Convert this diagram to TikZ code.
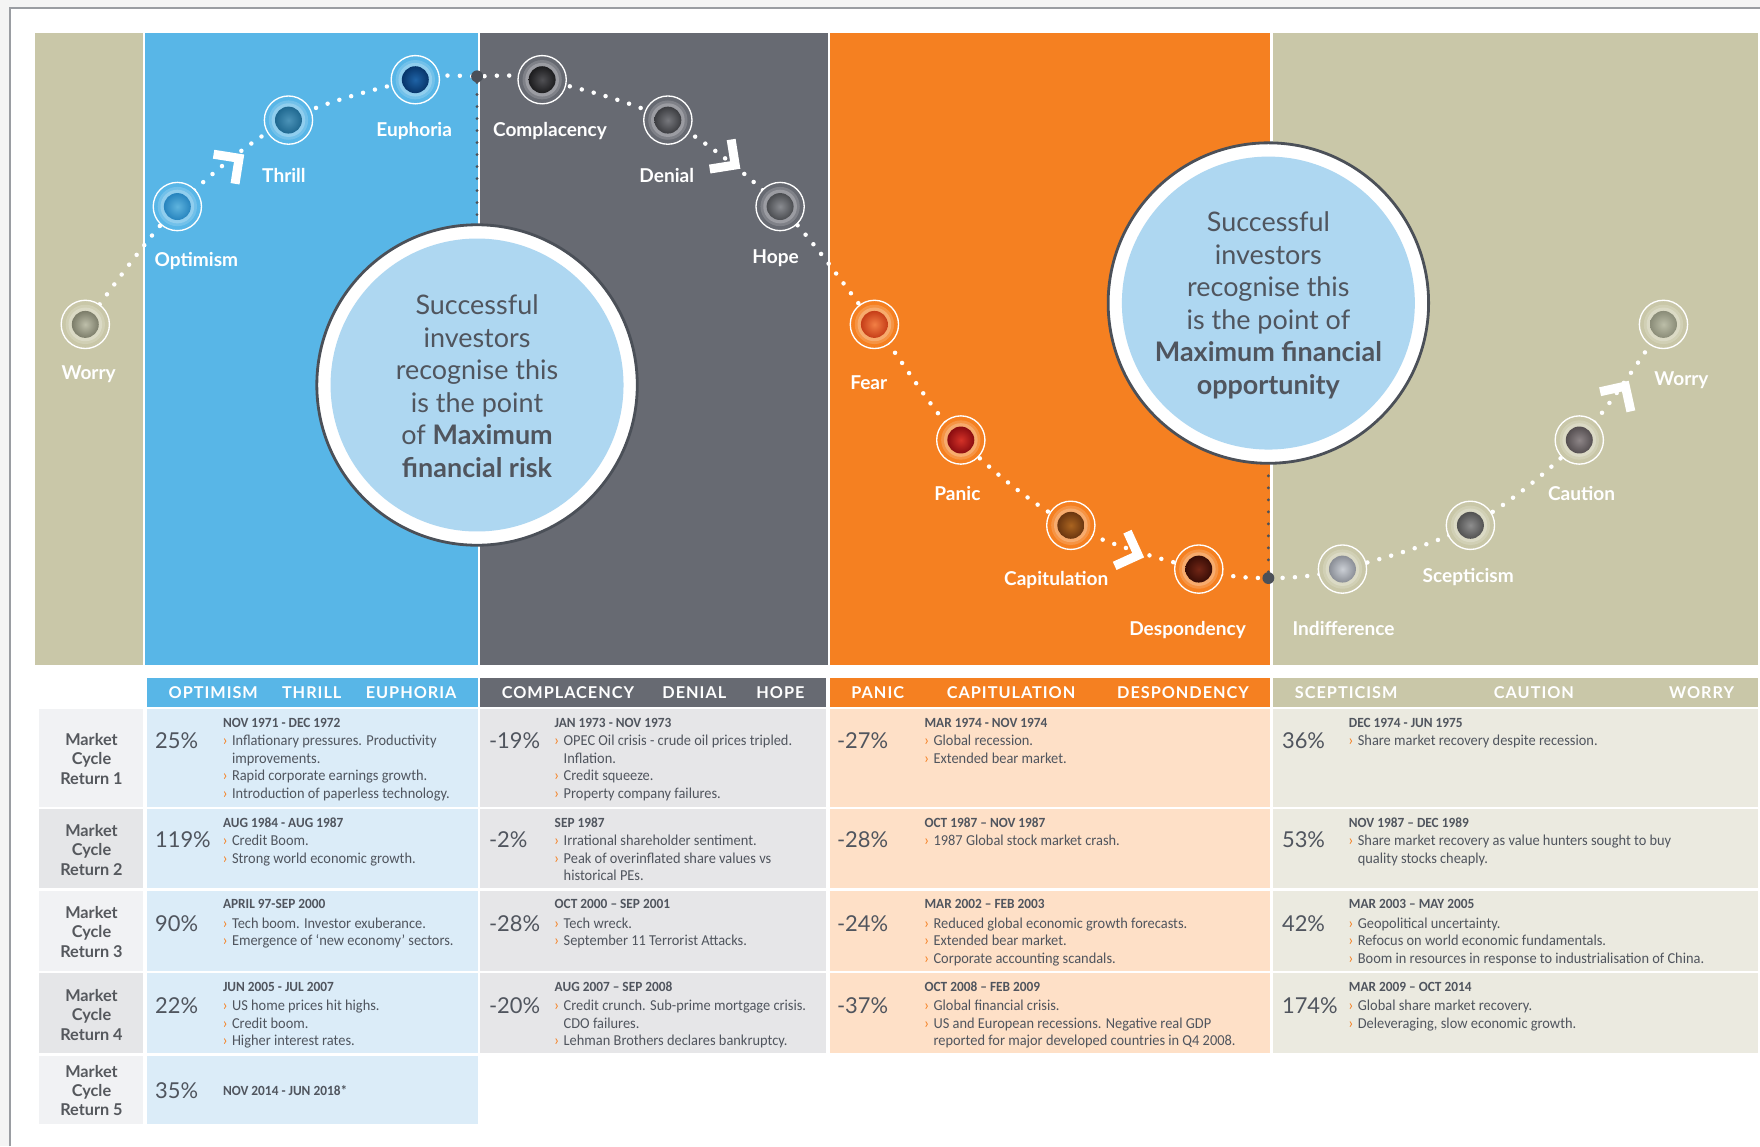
\documentclass[tikz,border=0pt]{standalone}
\usepackage{fontspec}
\setmainfont{Lato}
\newfontfamily\tbl[FakeStretch=0.95]{Carlito}
\newfontfamily\hdr[LetterSpace=6]{Lato}
\usetikzlibrary{calc}

\definecolor{pagebg}{HTML}{F4F4F4}
\definecolor{framec}{HTML}{9A9DA2}
\definecolor{khaki}{HTML}{C9C7A8}
\definecolor{sky}{HTML}{58B6E7}
\definecolor{slate}{HTML}{676A72}
\definecolor{orng}{HTML}{F58021}
\definecolor{bigin}{HTML}{AED7F1}
\definecolor{bigout}{HTML}{4B5058}
\definecolor{txt}{HTML}{50555E}
\definecolor{labtxt}{HTML}{55585D}
\definecolor{labA}{HTML}{F1F2F4}
\definecolor{labB}{HTML}{E5E6E8}
\definecolor{cblue}{HTML}{DBECF8}
\definecolor{cgray}{HTML}{E6E6E8}
\definecolor{corng}{HTML}{FEE0C7}
\definecolor{ckhaki}{HTML}{EBEAE0}
% marker colours: dark / light
\definecolor{mAd}{HTML}{7C7D6A}\definecolor{mAl}{HTML}{BEBFAA}
\definecolor{mBd}{HTML}{2784BE}\definecolor{mBl}{HTML}{5FB4DE}
\definecolor{mCd}{HTML}{1F6890}\definecolor{mCl}{HTML}{4C93B8}
\definecolor{mDd}{HTML}{07356A}\definecolor{mDl}{HTML}{1F63A6}
\definecolor{mEd}{HTML}{1C1C1E}\definecolor{mEl}{HTML}{505054}
\definecolor{mFd}{HTML}{3C3D41}\definecolor{mFl}{HTML}{77787D}
\definecolor{mGd}{HTML}{4B4D51}\definecolor{mGl}{HTML}{8A8C91}
\definecolor{mHd}{HTML}{C63E18}\definecolor{mHl}{HTML}{F27F45}
\definecolor{mId}{HTML}{8A0C10}\definecolor{mIl}{HTML}{D43228}
\definecolor{mJd}{HTML}{6A3610}\definecolor{mJl}{HTML}{AA6420}
\definecolor{mKd}{HTML}{380D06}\definecolor{mKl}{HTML}{722616}
\definecolor{mLd}{HTML}{8A8E96}\definecolor{mLl}{HTML}{CBCFD5}
\definecolor{mMd}{HTML}{525252}\definecolor{mMl}{HTML}{8E8E8E}
\definecolor{mNd}{HTML}{554F51}\definecolor{mNl}{HTML}{8E8688}
\definecolor{mOd}{HTML}{8A8C78}\definecolor{mOl}{HTML}{BCBEA8}

\newcounter{tn}
\tikzset{
  lbl/.style={text=white, font=\bfseries\fontsize{17}{17}\selectfont, inner sep=0pt, anchor=base},
  pathdots/.style={draw=white, line width=4pt, line cap=round, dash pattern=on 0pt off 11pt},
  vdots/.style={draw=bigout, line width=2.8pt, line cap=round, dash pattern=on 0pt off 10.7pt},
  junct/.style={circle, fill=bigout, minimum size=10.6pt, inner sep=0pt},
  chevline/.style={draw=white, line width=8pt, line join=miter, miter limit=20},
  ring/.style={circle, draw=white, line width=1.2pt, minimum size=43pt, inner sep=0pt},
  bigring/.style={circle, fill=white, draw=bigout, line width=2.5pt, minimum size=285.5pt, inner sep=0pt},
  bigcore/.style={circle, fill=bigin, minimum size=261pt, inner sep=0pt},
  bigtext/.style={align=center, text=txt, font=\fontsize{24}{29}\selectfont, inner sep=0pt},
  tt/.style={anchor=base west, inner sep=0pt, text=txt},
  hdrtext/.style={text=white, font=\hdr\bfseries\fontsize{14.5}{15}\selectfont, inner sep=0pt},
  rowlab/.style={align=center, text=labtxt, font=\bfseries\fontsize{14.5}{17.3}\selectfont, inner sep=0pt},
}

\newcommand\marker[6]{%
  \fill[#4] (#2,#3) circle[radius=21pt];
  \fill[white,opacity=0.16] (#2,#3) circle[radius=17.5pt];
  \fill[white,opacity=0.22] (#2,#3) circle[radius=15pt];
  \shade[inner color=#6, outer color=#5] (#2,#3) circle[radius=12pt];
  \node[ring] (#1) at (#2,#3) {};
}
\newcommand\chev[4]{%
  \coordinate (#1) at (#2,#3);
  \draw[chevline] ($(#1)+(#4+135:23pt)$) -- (#1) -- ($(#1)+(#4+225:23pt)$);
}
\newcommand\tnode[3]{\stepcounter{tn}\node[tt] (t\arabic{tn}) at (#1,#2) {#3};}
\newcommand\fb{\tbl\fontsize{13.5}{14}\selectfont}
\newcommand\pct[3]{\tnode{#1}{#2}{\fontsize{19.5}{20}\selectfont #3}}
\newcommand\dte[3]{\tnode{#1}{#2}{\tbl\bfseries\fontsize{12.5}{13}\selectfont #3}}
\newcommand\bul[3]{\tnode{#1}{#2}{\textcolor{orng}{\fontsize{13}{13}\selectfont\char"203A}}\tnode{#1+8}{#2}{\fb #3}}
\newcommand\cnt[3]{\tnode{#1+8}{#2}{\fb #3}}

\begin{document}
\begin{tikzpicture}[x=1pt,y=-1pt]
\useasboundingbox (0,0) rectangle (1568,1021);
\fill[pagebg] (0,0) rectangle (1568,1021);
\fill[white] (9,7) rectangle (1568,1021);
\draw[framec, line width=1.2pt] (9,1021) -- (9,7) -- (1568,7);

% panels
\fill[khaki] (31,29.5) rectangle (127.3,592);
\fill[sky] (129,29.5) rectangle (425.5,592);
\fill[slate] (427.5,29.5) rectangle (737.5,592);
\fill[orng] (739.5,29.5) rectangle (1131.5,592);
\fill[khaki] (1134.5,29.5) rectangle (1566,592);

% big circles
\node[bigring] (riskc) at (425,343) {};
\node[bigcore] (riskin) at (425,343) {};
\node[bigtext] (riskt) at (425,344) {Successful\\investors\\recognise this\\is the point\\of \textbf{Maximum}\\\textbf{financial risk}};
\node[bigring] (oppc) at (1130,270) {};
\node[bigcore] (oppin) at (1130,270) {};
\node[bigtext] (oppt) at (1130,272) {Successful\\investors\\recognise this\\is the point of\\\textbf{Maximum financial}\\\textbf{opportunity}};

% dotted path
\draw[pathdots] plot[smooth, tension=0.55] coordinates {(76,289) (158,184) (257,107) (370,71) (425,68) (483,71) (595,107) (695,184) (779,289) (856,392) (954,468) (1068,507) (1130,515) (1196,507) (1310,468) (1407,392) (1482,289)};

\node[junct] (jl) at (425,68) {};
\node[junct] (jr) at (1130,515) {};
\draw[vdots] (jl) -- (riskc);
\draw[vdots] (jr) -- (oppc);

% markers
\marker{mA}{76}{289}{khaki}{mAd}{mAl}
\marker{mB}{158}{184}{sky}{mBd}{mBl}
\marker{mC}{257}{107}{sky}{mCd}{mCl}
\marker{mD}{370}{71}{sky}{mDd}{mDl}
\marker{mE}{483}{71}{slate}{mEd}{mEl}
\marker{mF}{595}{107}{slate}{mFd}{mFl}
\marker{mG}{695}{184}{slate}{mGd}{mGl}
\marker{mH}{779}{289}{orng}{mHd}{mHl}
\marker{mI}{856}{392}{orng}{mId}{mIl}
\marker{mJ}{954}{468}{orng}{mJd}{mJl}
\marker{mK}{1068}{507}{orng}{mKd}{mKl}
\marker{mL}{1196}{507}{khaki}{mLd}{mLl}
\marker{mM}{1310}{468}{khaki}{mMd}{mMl}
\marker{mN}{1407}{392}{khaki}{mNd}{mNl}
\marker{mO}{1482}{289}{khaki}{mOd}{mOl}

% labels
\node[lbl] (lA) at (79,338) {Worry};
\node[lbl] (lB) at (175,237) {Optimism};
\node[lbl] (lC) at (253,163) {Thrill};
\node[lbl] (lD) at (369,122) {Euphoria};
\node[lbl] (lE) at (490,122) {Complacency};
\node[lbl] (lF) at (594,163) {Denial};
\node[lbl] (lG) at (691,235) {Hope};
\node[lbl] (lH) at (774,347) {Fear};
\node[lbl] (lI) at (853,446) {Panic};
\node[lbl] (lJ) at (941,522) {Capitulation};
\node[lbl] (lK) at (1058,566) {Despondency};
\node[lbl] (lL) at (1197,566) {Indifference};
\node[lbl] (lM) at (1308,519) {Scepticism};
\node[lbl] (lN) at (1409,446) {Caution};
\node[lbl] (lO) at (1498,343.5) {Worry};

% chevrons
\chev{c1}{213}{141}{36}
\chev{c2}{655}{147}{-36}
\chev{c3}{1014}{494.6}{-20.5}
\chev{c4}{1448}{344}{57.5}

% table headers
\fill[sky] (131,604) rectangle (425.5,630);
\fill[slate] (428,604) rectangle (735.5,630);
\fill[orng] (739,604) rectangle (1131.5,630);
\fill[khaki] (1134.5,604) rectangle (1566,630);
\node[hdrtext] (h1) at (190,617) {OPTIMISM};
\node[hdrtext] (h2) at (277.7,617) {THRILL};
\node[hdrtext] (h3) at (366.3,617) {EUPHORIA};
\node[hdrtext] (h4) at (506,617) {COMPLACENCY};
\node[hdrtext] (h5) at (618.6,617) {DENIAL};
\node[hdrtext] (h6) at (695.3,617) {HOPE};
\node[hdrtext] (h7) at (782,617) {PANIC};
\node[hdrtext] (h8) at (900.8,617) {CAPITULATION};
\node[hdrtext] (h9) at (1054,617) {DESPONDENCY};
\node[hdrtext] (h10) at (1199.3,617) {SCEPTICISM};
\node[hdrtext] (h11) at (1366.6,617) {CAUTION};
\node[hdrtext] (h12) at (1516,617) {WORRY};

% table cells
\foreach \ya/\yb/\lc in {632/719/labA, 721/791/labB, 794/865/labA, 867/938/labB}{
  \fill[\lc] (35,\ya) rectangle (127.5,\yb);
  \fill[cblue] (131,\ya) rectangle (425.5,\yb);
  \fill[cgray] (428,\ya) rectangle (735.5,\yb);
  \fill[corng] (739,\ya) rectangle (1131.5,\yb);
  \fill[ckhaki] (1134.5,\ya) rectangle (1566,\yb);
}
\fill[labA] (35,941) rectangle (127.5,1001);
\fill[cblue] (131,941) rectangle (425.5,1001);

\node[rowlab] (r1) at (81.5,676) {Market\\Cycle\\Return 1};
\node[rowlab] (r2) at (81.5,757) {Market\\Cycle\\Return 2};
\node[rowlab] (r3) at (81.5,830) {Market\\Cycle\\Return 3};
\node[rowlab] (r4) at (81.5,904) {Market\\Cycle\\Return 4};
\node[rowlab] (r5) at (81.5,971.6) {Market\\Cycle\\Return 5};

% row 1
\pct{138}{667}{25\%}
\dte{198.5}{648}{NOV 1971 - DEC 1972}
\bul{198.5}{664.3}{Inflationary pressures. Productivity}
\cnt{198.5}{680.3}{improvements.}
\bul{198.5}{695.3}{Rapid corporate earnings growth.}
\bul{198.5}{711.3}{Introduction of paperless technology.}
\pct{435.5}{667}{-19\%}
\dte{494}{648}{JAN 1973 - NOV 1973}
\bul{494}{664.3}{OPEC Oil crisis - crude oil prices tripled.}
\cnt{494}{680.3}{Inflation.}
\bul{494}{695.3}{Credit squeeze.}
\bul{494}{711.3}{Property company failures.}
\pct{745.5}{667}{-27\%}
\dte{823.5}{648}{MAR 1974 - NOV 1974}
\bul{823.5}{664.3}{Global recession.}
\bul{823.5}{680.3}{Extended bear market.}
\pct{1142}{667}{36\%}
\dte{1201.5}{648}{DEC 1974 - JUN 1975}
\bul{1201.5}{664.3}{Share market recovery despite recession.}

% row 2
\pct{138}{755}{119\%}
\dte{198.5}{737}{AUG 1984 - AUG 1987}
\bul{198.5}{753.3}{Credit Boom.}
\bul{198.5}{769.3}{Strong world economic growth.}
\pct{435.5}{755}{-2\%}
\dte{494}{737}{SEP 1987}
\bul{494}{753.3}{Irrational shareholder sentiment.}
\bul{494}{769.3}{Peak of overinflated share values vs}
\cnt{494}{784.3}{historical PEs.}
\pct{745.5}{755}{-28\%}
\dte{823.5}{737}{OCT 1987 – NOV 1987}
\bul{823.5}{753.3}{1987 Global stock market crash.}
\pct{1142}{755}{53\%}
\dte{1201.5}{737}{NOV 1987 – DEC 1989}
\bul{1201.5}{753.3}{Share market recovery as value hunters sought to buy}
\cnt{1201.5}{769.3}{quality stocks cheaply.}

% row 3
\pct{138}{829.5}{90\%}
\dte{198.5}{809.6}{APRIL 97-SEP 2000}
\bul{198.5}{826.9}{Tech boom. Investor exuberance.}
\bul{198.5}{842.3}{Emergence of ‘new economy’ sectors.}
\pct{435.5}{829.5}{-28\%}
\dte{494}{809.6}{OCT 2000 – SEP 2001}
\bul{494}{826.9}{Tech wreck.}
\bul{494}{842.3}{September 11 Terrorist Attacks.}
\pct{745.5}{829.5}{-24\%}
\dte{823.5}{809.6}{MAR 2002 – FEB 2003}
\bul{823.5}{826.9}{Reduced global economic growth forecasts.}
\bul{823.5}{842.3}{Extended bear market.}
\bul{823.5}{858.3}{Corporate accounting scandals.}
\pct{1142}{829.5}{42\%}
\dte{1201.5}{809.6}{MAR 2003 – MAY 2005}
\bul{1201.5}{826.9}{Geopolitical uncertainty.}
\bul{1201.5}{842.3}{Refocus on world economic fundamentals.}
\bul{1201.5}{858.3}{Boom in resources in response to industrialisation of China.}

% row 4
\pct{138}{903}{22\%}
\dte{198.5}{883}{JUN 2005 - JUL 2007}
\bul{198.5}{900.3}{US home prices hit highs.}
\bul{198.5}{916}{Credit boom.}
\bul{198.5}{931.3}{Higher interest rates.}
\pct{435.5}{903}{-20\%}
\dte{494}{883}{AUG 2007 – SEP 2008}
\bul{494}{900.3}{Credit crunch. Sub-prime mortgage crisis.}
\cnt{494}{916}{CDO failures.}
\bul{494}{931.3}{Lehman Brothers declares bankruptcy.}
\pct{745.5}{903}{-37\%}
\dte{823.5}{883}{OCT 2008 – FEB 2009}
\bul{823.5}{900.3}{Global financial crisis.}
\bul{823.5}{916}{US and European recessions. Negative real GDP}
\cnt{823.5}{931.3}{reported for major developed countries in Q4 2008.}
\pct{1142}{903}{174\%}
\dte{1201.5}{883}{MAR 2009 – OCT 2014}
\bul{1201.5}{900.3}{Global share market recovery.}
\bul{1201.5}{916}{Deleveraging, slow economic growth.}

% row 5
\pct{138}{978.7}{35\%}
\dte{198.5}{975.6}{NOV 2014 - JUN 2018*}
\end{tikzpicture}
\end{document}
